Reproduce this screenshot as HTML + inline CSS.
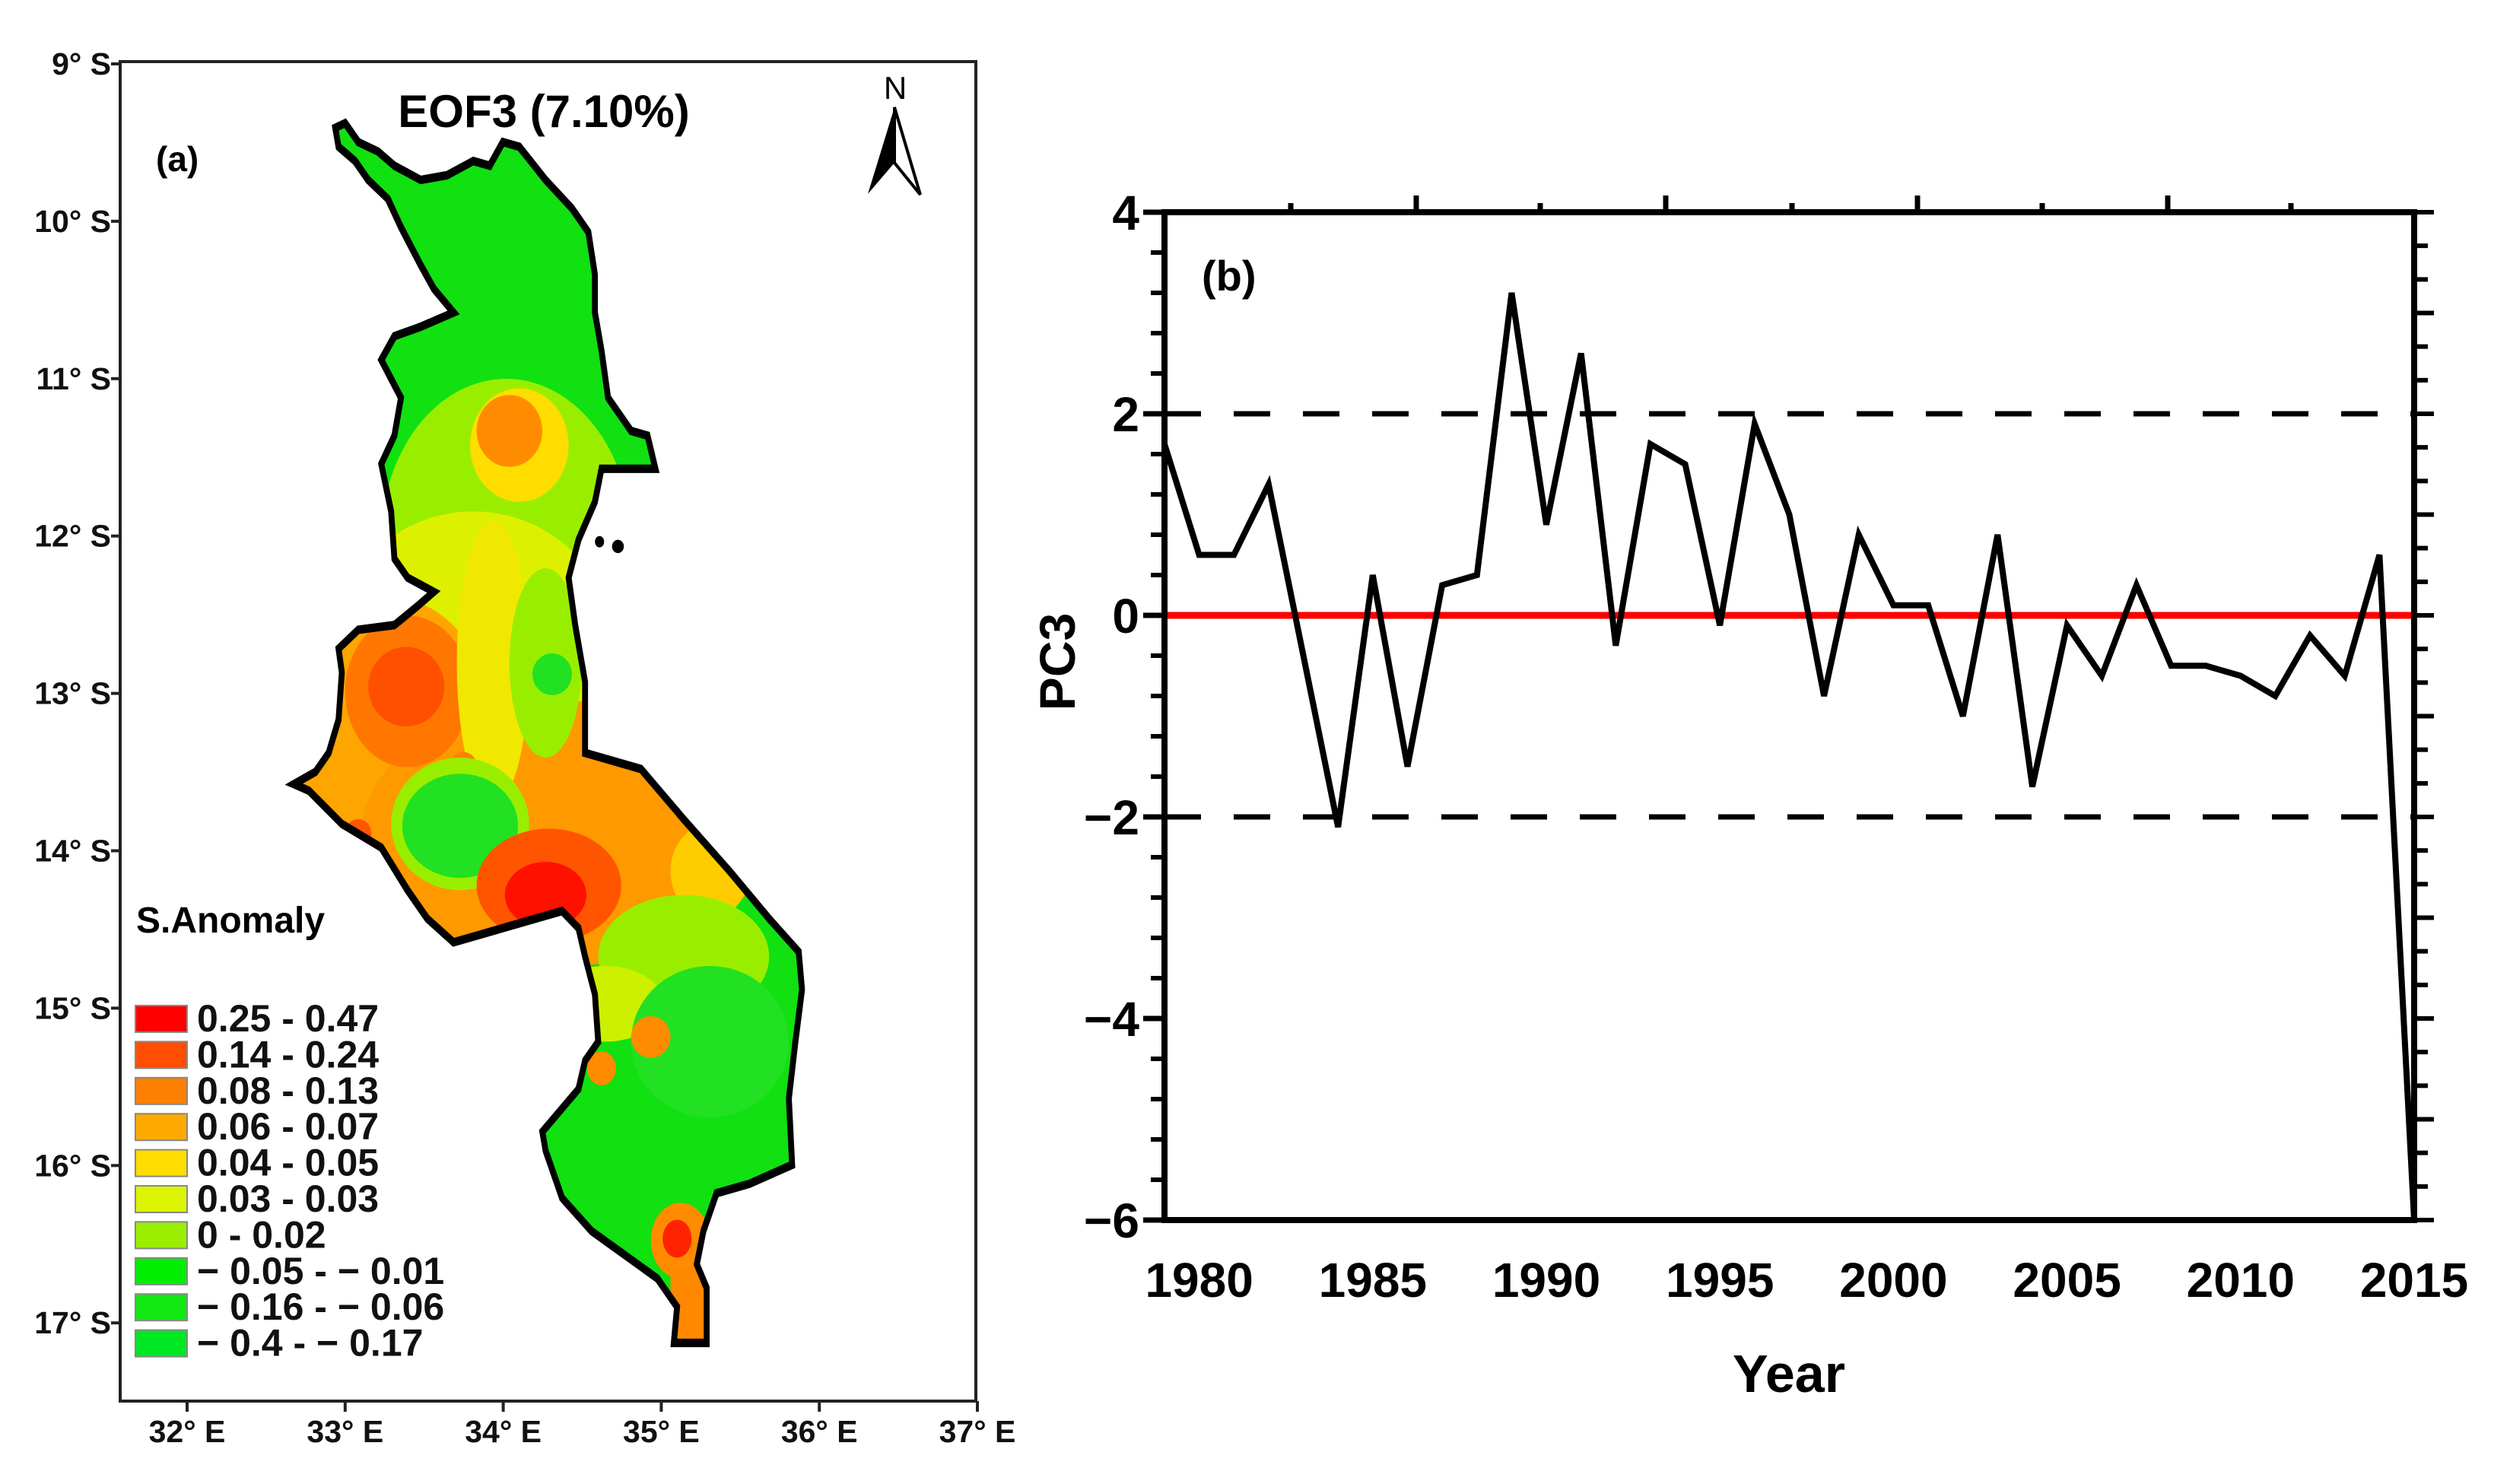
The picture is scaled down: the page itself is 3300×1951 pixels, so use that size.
<!DOCTYPE html>
<html><head><meta charset="utf-8"><style>
html,body{margin:0;padding:0;background:#fff;}
#wrap{position:relative;width:3300px;height:1951px;overflow:hidden;font-family:"Liberation Sans",Arial,sans-serif;}
svg{position:absolute;left:0;top:0;}
</style></head><body>
<div id="wrap">
<svg width="1350" height="1951" viewBox="0 0 1562 1567" preserveAspectRatio="none">
<defs>
<clipPath id="mw"><path id="mwp" d="M510,135 L525,130 L545,150 L575,160 L600,175 L640,190 L680,185 L720,170 L745,175 L765,150 L790,155 L830,190 L870,220 L895,245 L905,290 L905,330 L915,370 L925,420 L960,455 L985,460 L997,495 L915,495 L905,530 L880,570 L865,610 L875,660 L890,720 L890,795 L975,812 L1040,865 L1110,920 L1170,970 L1215,1005 L1220,1045 L1210,1100 L1200,1160 L1205,1230 L1140,1250 L1090,1260 L1070,1300 L1060,1335 L1075,1360 L1075,1418 L1025,1418 L1030,1380 L1000,1350 L960,1330 L900,1300 L855,1265 L830,1215 L825,1195 L880,1150 L890,1120 L910,1100 L905,1050 L890,1010 L880,980 L855,962 L790,975 L740,985 L690,995 L650,970 L620,940 L580,895 L520,870 L470,835 L447,828 L480,815 L500,795 L515,760 L520,710 L515,685 L545,665 L600,660 L635,640 L660,625 L620,610 L600,590 L595,540 L580,490 L600,460 L610,420 L580,380 L600,355 L640,345 L690,330 L660,305 L640,280 L610,240 L590,210 L560,190 L540,170 L515,155 Z"/></clipPath>
</defs>
<g clip-path="url(#mw)">
<rect x="0" y="0" width="1562" height="1567" fill="#11e011"/>
<ellipse cx="770" cy="570" rx="190" ry="170" fill="#99ee00"/>
<ellipse cx="720" cy="680" rx="210" ry="140" fill="#ddf000"/>
<ellipse cx="590" cy="790" rx="170" ry="160" fill="#ffa500"/>
<ellipse cx="860" cy="880" rx="310" ry="140" fill="#ff9900"/>
<ellipse cx="620" cy="730" rx="95" ry="80" fill="#ff7700"/>
<ellipse cx="618" cy="725" rx="58" ry="42" fill="#ff5000"/>
<ellipse cx="750" cy="700" rx="55" ry="150" fill="#f0e800"/>
<ellipse cx="830" cy="700" rx="55" ry="100" fill="#99ee00"/>
<ellipse cx="840" cy="712" rx="30" ry="22" fill="#22e022"/>
<ellipse cx="705" cy="812" rx="22" ry="18" fill="#ff8000"/>
<ellipse cx="700" cy="870" rx="105" ry="70" fill="#99ee00"/>
<ellipse cx="700" cy="872" rx="88" ry="55" fill="#22e022"/>
<ellipse cx="835" cy="935" rx="110" ry="60" fill="#ff5500"/>
<ellipse cx="830" cy="945" rx="62" ry="35" fill="#ff1100"/>
<ellipse cx="1080" cy="920" rx="60" ry="50" fill="#ffcc00"/>
<ellipse cx="1040" cy="1010" rx="130" ry="65" fill="#99ee00"/>
<ellipse cx="920" cy="1060" rx="90" ry="40" fill="#ccf000"/>
<ellipse cx="1080" cy="1100" rx="120" ry="80" fill="#22e022"/>
<ellipse cx="790" cy="470" rx="75" ry="60" fill="#ffdd00"/>
<ellipse cx="775" cy="455" rx="50" ry="38" fill="#ff8c00"/>
<ellipse cx="990" cy="1095" rx="30" ry="22" fill="#ff8c00"/>
<ellipse cx="915" cy="1128" rx="22" ry="18" fill="#ff8c00"/>
<ellipse cx="1035" cy="1310" rx="45" ry="40" fill="#ff8c00"/>
<ellipse cx="1030" cy="1308" rx="22" ry="20" fill="#ff2200"/>
<rect x="1020" y="1340" width="70" height="90" fill="#ff8800"/>
<ellipse cx="545" cy="880" rx="20" ry="15" fill="#ff5500"/>
</g>
<use href="#mwp" fill="none" stroke="#000" stroke-width="9"/>
<ellipse cx="912" cy="572" rx="7" ry="6" fill="#000"/>
<ellipse cx="940" cy="577" rx="9" ry="7" fill="#000"/>
</svg>

<svg width="1350" height="1951" viewBox="0 0 1350 1951">
<rect x="158" y="81" width="1125" height="1761" fill="none" stroke="#222" stroke-width="4"/>
<g id="latTicks" font-weight="bold" font-size="41" text-anchor="end" fill="#111"></g>
<g id="lonTicks" font-weight="bold" font-size="41" text-anchor="middle" fill="#111"></g>
<text x="715" y="167" font-size="60" font-weight="bold" text-anchor="middle">EOF3 (7.10%)</text>
<text x="205" y="225" font-size="46" font-weight="bold">(a)</text>
<g>
<text x="1177" y="130" font-size="42" text-anchor="middle">N</text>
<polygon points="1176,141 1141,255 1176,214" fill="#000"/>
<polygon points="1176,141 1210,256 1176,214" fill="#fff" stroke="#000" stroke-width="4"/>
</g>
<text x="179" y="1226" font-size="48" font-weight="bold">S.Anomaly</text>
<g id="legend"></g>
</svg>

<svg id="chart" width="3300" height="1951" viewBox="0 0 3300 1951" style="left:0;top:0">
<g id="chartG"></g>
</svg>
</div>
<script>
const years = [1979,1980,1981,1982,1983,1984,1985,1986,1987,1988,1989,1990,1991,1992,1993,1994,1995,1996,1997,1998,1999,2000,2001,2002,2003,2004,2005,2006,2007,2008,2009,2010,2011,2012,2013,2014,2015];
const pc3 = [1.7,0.6,0.6,1.3,-0.4,-2.1,0.4,-1.5,0.3,0.4,3.2,0.9,2.6,-0.3,1.7,1.5,-0.1,1.9,1.0,-0.8,0.8,0.1,0.1,-1.0,0.8,-1.7,-0.1,-0.6,0.3,-0.5,-0.5,-0.6,-0.8,-0.2,-0.6,0.6,-6.0];
const xTickLabels = [1980,1985,1990,1995,2000,2005,2010,2015];
const yTickLabels = [4,2,0,-2,-4,-6];
const thresholds = [2,-2];
const legendLabels = ["0.25 - 0.47","0.14 - 0.24","0.08 - 0.13","0.06 - 0.07","0.04 - 0.05","0.03 - 0.03","0 - 0.02","\u2212 0.05 - \u2212 0.01","\u2212 0.16 - \u2212 0.06","\u2212 0.4 - \u2212 0.17"];
const legendColors = ["#ff0000","#ff4e00","#ff8000","#ffaa00","#ffdd00","#ddf500","#99ee00","#00ee00","#11e811","#00e822"];
const latLabels = [9,10,11,12,13,14,15,16,17];
const lonLabels = [32,33,34,35,36,37];

const NS = "http://www.w3.org/2000/svg";
function mk(tag, attrs, parent){const e=document.createElementNS(NS,tag);for(const k in attrs)e.setAttribute(k,attrs[k]);parent.appendChild(e);return e;}

const X0=1531, X1=3174, Y4=279, Ym6=1604;
function xs(y){return X0+(y-1979)*(X1-X0)/(2015-1979);}
function ys(v){return Y4+(4-v)*(Ym6-Y4)/10;}
function latY(d){return 84+(d-9)*206.9;}
function lonX(d){return 246+(d-32)*207.8;}

const latG=document.getElementById('latTicks');
latLabels.forEach(d=>{
  const y=latY(d);
  const l=mk('line',{x1:146,x2:158,y1:y,y2:y,stroke:'#222','stroke-width':4},latG);
  
  
  const t=mk('text',{x:146,y:y+14},latG);t.textContent=d+'° S';
  
  
});
const lonG=document.getElementById('lonTicks');
lonLabels.forEach(d=>{
  const x=lonX(d);
  const l=mk('line',{x1:x,x2:x,y1:1842,y2:1856,stroke:'#222','stroke-width':4},lonG);
  
  
  const t=mk('text',{x:x,y:1896},lonG);t.textContent=d+'° E';
  
  
});
const legG=document.getElementById('legend');
legendLabels.forEach((s,i)=>{
  const cy=1339+i*47.4;
  const r=mk('rect',{x:178,y:cy-17,width:68,height:35,fill:legendColors[i],stroke:'#888','stroke-width':2},legG);
  
  
  const t=mk('text',{x:259,y:cy+17,'font-size':50,'font-weight':'bold',fill:'#111'},legG);t.textContent=s;
  
  
});

const g=document.getElementById('chartG');
const z=mk('line',{x1:X0,x2:X1,y1:ys(0),y2:ys(0),stroke:'#ff0000','stroke-width':9},g);


thresholds.forEach(v=>{
  const d=mk('line',{x1:X0,x2:X1,y1:ys(v),y2:ys(v),stroke:'#000','stroke-width':7,'stroke-dasharray':'48 43'},g);
  
  
});
const pts=years.map((y,i)=>xs(y).toFixed(1)+','+ys(pc3[i]).toFixed(1)).join(' ');
const pl=mk('polyline',{points:pts,fill:'none',stroke:'#000','stroke-width':8,'stroke-linejoin':'miter'},g);


const fr=mk('rect',{x:X0,y:Y4,width:X1-X0,height:Ym6-Y4,fill:'none',stroke:'#000','stroke-width':8},g);


for(let v=-6;v<=4.001;v+=0.4){
  const y=ys(v);
  const t=mk('line',{x1:X0-18,x2:X0,y1:y,y2:y,stroke:'#000','stroke-width':6},g);
  
  
}
yTickLabels.forEach(v=>{
  const y=ys(v);
  const t=mk('line',{x1:X0-28,x2:X0,y1:y,y2:y,stroke:'#000','stroke-width':7},g);
  
  
  const tx=mk('text',{x:X0-33,y:y+23,'font-size':64,'font-weight':'bold','text-anchor':'end'},g);
  tx.textContent=v<0?'\u2212'+Math.abs(v):String(v);
  
  
});
for(let k=0;k<=30;k++){
  const y=Y4+k*(Ym6-Y4)/30;
  const t=mk('line',{x1:X1,x2:X1+(k%3===0?26:18),y1:y,y2:y,stroke:'#000','stroke-width':6},g);
  
  
}
[1697,1862,2025,2190,2356,2521,2685,2850,3012].forEach((x,i)=>{
  const t=mk('line',{x1:x,x2:x,y1:Y4,y2:Y4-(i%2===1?22:12),stroke:'#000','stroke-width':7},g);
  
  
});
xTickLabels.forEach(v=>{
  const tx=mk('text',{x:xs(v),y:1705,'font-size':64,'font-weight':'bold','text-anchor':'middle'},g);
  tx.textContent=String(v);
  
  
});
const xt=mk('text',{x:2352,y:1830,'font-size':70,'font-weight':'bold','text-anchor':'middle'},g);
xt.textContent='Year';


const yt=mk('text',{x:0,y:0,'font-size':66,'font-weight':'bold','text-anchor':'middle',transform:'translate(1413,870) rotate(-90)'},g);
yt.textContent='PC3';


const pb=mk('text',{x:1580,y:382,'font-size':56,'font-weight':'bold'},g);
pb.textContent='(b)';


</script>
</body></html>
